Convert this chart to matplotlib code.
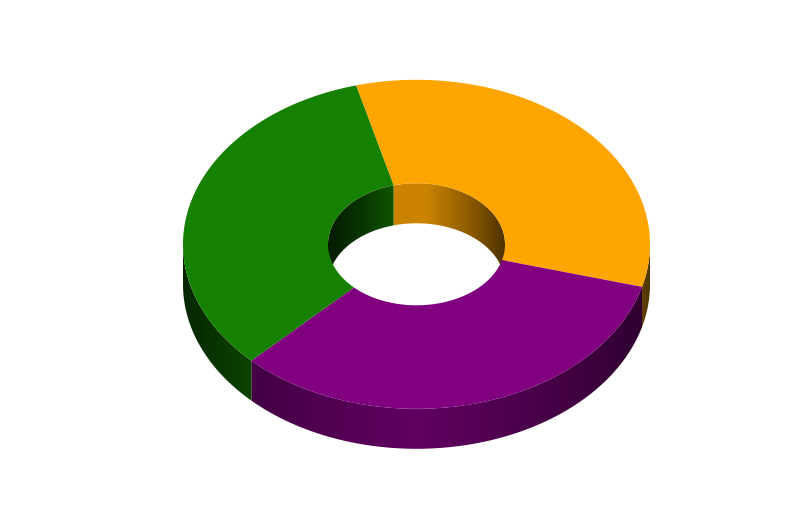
import matplotlib
matplotlib.use('Agg')
import matplotlib.pyplot as plt
import numpy as np
from matplotlib.colors import to_rgb
from matplotlib.patches import Polygon

# Data - three equal slices, clockwise from the start angle
slice_names = ['Orange', 'Purple', 'Green']
slice_values = [1, 1, 1]
slice_colors = ['#FFA500', '#800080', '#168000']

# Ellipse geometry in pixels
cx, cy = 416.5, 244.3
outer_rx, outer_ry = 233.5, 164.5
inner_rx, inner_ry = 88.5, 61
depth = 40
start_angle = -15

# Brightness across the walls, u is -1..1 from left to right edge
outer_u = [-1, -0.7, 0, 0.7, 0.96, 1]
outer_shade = [0.3, 0.53, 0.76, 0.5, 0.38, 0.32]
inner_u = {
    'Orange': [-0.27, 0.1, 0.4, 0.7, 1],
    'Green': [-1, -0.6, -0.27],
}
inner_shade = {
    'Orange': [0.8, 0.8, 0.65, 0.5, 0.3],
    'Green': [0.22, 0.42, 0.66],
}


def arc(rx, ry, t0, t1, dy=0):
    t = np.radians(np.linspace(t0, t1, 200))
    return np.column_stack([cx + rx * np.sin(t), cy + dy - ry * np.cos(t)])


def wall(ax, rx, ry, t0, t1, u_pts, shades, color):
    # one row gradient clipped to the wall shape
    poly = np.vstack([arc(rx, ry, t0, t1), arc(rx, ry, t1, t0, depth)])
    u = np.linspace(-1, 1, 600)
    grad = np.interp(u, u_pts, shades)[None, :, None] * np.array(to_rgb(color))
    im = ax.imshow(grad, extent=(cx - rx, cx + rx, cy + ry + depth, cy - ry),
                   aspect='auto', interpolation='bilinear', zorder=2)
    im.set_clip_path(Polygon(poly, closed=True, transform=ax.transData))


fig = plt.figure(figsize=(8.08, 5.19), dpi=100, facecolor='white')
ax = fig.add_axes([0, 0, 1, 1])

edges = start_angle + np.concatenate([[0], np.cumsum(slice_values)]) / np.sum(slice_values) * 360

for i, name in enumerate(slice_names):
    t0, t1 = edges[i], edges[i + 1]
    color = slice_colors[i]

    # outer wall, front half only
    a, b = max(t0, 90), min(t1, 270)
    if a < b:
        wall(ax, outer_rx, outer_ry, a, b, outer_u, outer_shade, color)

    # inner wall, back half only
    if name in inner_u:
        if t0 < 90:
            a, b = t0, min(t1, 90)
        else:
            a, b = max(t0 - 360, -90), t1 - 360
        wall(ax, inner_rx, inner_ry, a, b, inner_u[name], inner_shade[name], color)

# Top faces go over the walls
for i in range(len(slice_values)):
    t0, t1 = edges[i], edges[i + 1]
    ring = np.vstack([arc(outer_rx, outer_ry, t0, t1), arc(inner_rx, inner_ry, t1, t0)])
    ax.add_patch(Polygon(ring, closed=True, facecolor=slice_colors[i], edgecolor='none', zorder=3))

ax.set_xlim(0, 808)
ax.set_ylim(519, 0)
ax.axis('off')

plt.savefig('out.png', dpi=100, facecolor='white')
